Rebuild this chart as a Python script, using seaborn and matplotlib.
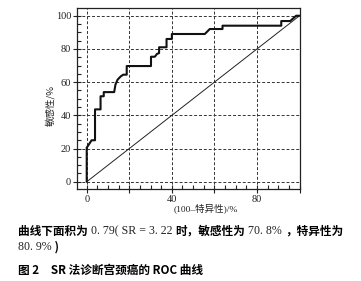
import numpy as np
import pandas as pd
import matplotlib
matplotlib.use("Agg")
import matplotlib.pyplot as plt
import seaborn as sns

# ROC curve points (1-specificity %, sensitivity %)
fpr = [0, 0, 2.3, 3.9, 3.9, 6.5, 6.5, 8.0, 8.0, 12.9, 13.5, 14.5, 16.0, 17.2,
       18.8, 18.8, 30.2, 30.2, 32.0, 33.0, 34.0, 34.0, 37.5, 37.5, 40.0, 40.0,
       55.5, 57.8, 63.8, 63.8, 91.4, 91.4, 95.6, 98.4, 100]
tpr = [0, 20.5, 25.0, 25.0, 43.6, 43.6, 51.5, 51.5, 54.0, 54.0, 58.5, 61.5,
       63.5, 64.5, 64.5, 69.7, 69.7, 75.3, 75.3, 77.0, 77.5, 81.0, 81.0, 86.0,
       86.0, 89.0, 89.0, 92.0, 92.0, 94.0, 94.0, 96.8, 96.8, 100, 100]
ref_x = [0, 100]
ref_y = [0, 100]
grid_vals = [0, 20, 40, 60, 80, 100]
x_tick_labels = ["0", "", "40", "", "80", ""]
y_tick_labels = ["0", "20", "40", "60", "80", "100"]
xlabel = "(100–特异性)/%"
ylabel = "敏感性/%"

sns.set_theme(style="white")
plt.rcParams['font.family'] = ['Liberation Serif', 'Noto Sans CJK SC']

fig = plt.figure(figsize=(3.61, 2.81), dpi=100)
ax = fig.add_axes([0.2125, 0.326, 0.831 - 0.2125, 0.970 - 0.326])

df = pd.DataFrame({"x": fpr, "y": tpr})
dref = pd.DataFrame({"x": ref_x, "y": ref_y})
sns.lineplot(data=dref, x="x", y="y", ax=ax, color="#222222", lw=0.7,
             sort=False, estimator=None)
sns.lineplot(data=df, x="x", y="y", ax=ax, color="#111111", lw=1.5,
             sort=False, estimator=None)

ax.set_xlim(-4.7, 100.2)
ax.set_ylim(-4.6, 104.4)
for v in grid_vals:
    ax.axvline(v, color="#333333", lw=0.7, ls=(0, (3, 2)), zorder=0)
    ax.axhline(v, color="#333333", lw=0.7, ls=(0, (3, 2)), zorder=0)

ax.set_xticks(grid_vals)
ax.set_xticklabels(x_tick_labels)
ax.set_yticks(grid_vals)
ax.set_yticklabels(y_tick_labels)
ax.set_xticks(np.arange(0, 101, 5), minor=True)
ax.set_yticks(np.arange(0, 101, 5), minor=True)
ax.tick_params(axis="both", which="major", direction="inout", length=6,
               width=0.8, color="#222222", labelsize=7.5, pad=1,
               labelcolor="#222222")
ax.tick_params(axis="both", which="minor", direction="in", length=3,
               width=0.8, color="#222222")
ax.tick_params(bottom=True, left=True, top=False, right=False, which="both")
for s in ax.spines.values():
    s.set_color("#222222")
    s.set_linewidth(0.9)

ax.set_xlabel(xlabel, fontsize=6.8, color="#222222",
              family=['Liberation Serif', 'Noto Sans CJK SC'])
ax.set_ylabel(ylabel, fontsize=6.8, color="#222222",
              family=['Noto Sans CJK SC'])
ax.xaxis.set_label_coords(0.576, -0.075)
ax.yaxis.set_label_coords(-0.095, 0.462)

# Caption
cjk_b = dict(family=['Noto Sans CJK SC'], fontweight='bold', fontsize=8.4,
             color='black')
ser = dict(family=['Liberation Serif'], fontsize=8.6, color='#222222')
lines = [
    (18, 231.5, [("曲线下面积为", cjk_b), (" 0. 79( SR = 3. 22 ", ser),
                 ("时，敏感性为", cjk_b), (" 70. 8% ", ser),
                 ("，特异性为", cjk_b)]),
    (18, 247.5, [("80. 9%", ser), (" )", cjk_b)]),
    (18, 270, [("图 2　SR 法诊断宫颈癌的 ROC 曲线", cjk_b)]),
]
renderer = fig.canvas.get_renderer()
W, H = 361, 281
for x0, y0, segs in lines:
    xp = x0
    for txt, kw in segs:
        t = fig.text(xp / W, 1 - y0 / H, txt, va="center", ha="left", **kw)
        bb = t.get_window_extent(renderer)
        xp += bb.width

fig.savefig("out.png", dpi=100)
